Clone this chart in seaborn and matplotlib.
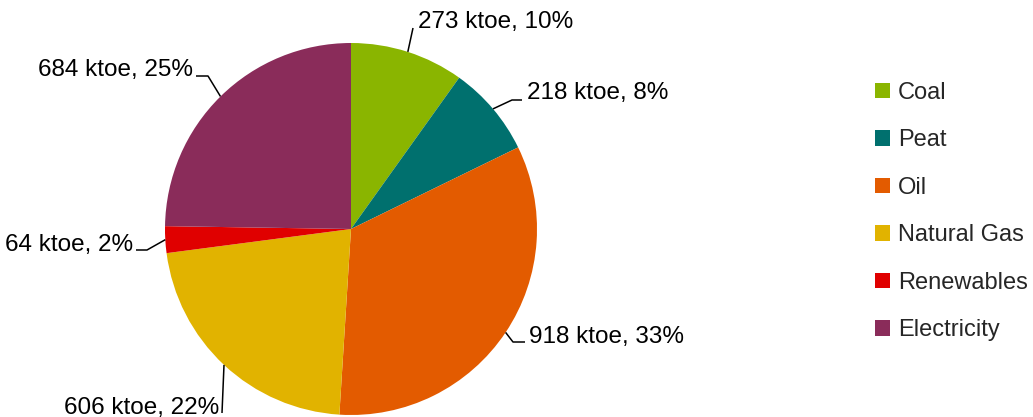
import matplotlib
matplotlib.use("Agg")
import matplotlib.pyplot as plt
import numpy as np
import seaborn as sns

# Final energy consumption by source
sources = ["Coal", "Peat", "Oil", "Natural Gas", "Renewables", "Electricity"]
ktoe = [273, 218, 918, 606, 64, 684]
colors = ["#8AB500", "#00706E", "#E35B00", "#E1B300", "#E00000", "#8A2C5A"]

sns.set_theme(style="white")
plt.rcParams["font.family"] = ["Liberation Sans", "DejaVu Sans"]

W, H = 1033, 417
fig = plt.figure(figsize=(W / 100, H / 100), dpi=100)
ax = fig.add_axes([0, 0, 1, 1])

# pie centre and radius on a pixel-sized canvas (y grows upward)
cx, cy, r = 351, H - 229, 186
wedges, _ = ax.pie(
    ktoe,
    colors=sns.color_palette(colors),
    startangle=90,
    counterclock=False,
    center=(cx, cy),
    radius=r,
    wedgeprops=dict(linewidth=0),
)
ax.set_aspect("auto")
ax.set_xlim(0, W)
ax.set_ylim(0, H)
ax.axis("off")

total = sum(ktoe)
shares = [round(v / total * 100) for v in ktoe]

# leader-line elbow, leader-line tail, text anchor (baseline), alignment
# given in pixels measured from the top-left corner
label_layout = [
    ((413, 28), (413, 28), (418, 28), "left"),
    ((512, 100), (522, 100), (527, 99), "left"),
    ((513, 342), (525, 342), (529, 343), "left"),
    ((222, 413), (222, 413), (219, 414), "right"),
    ((147, 250), (136, 250), (133, 251), "right"),
    ((208, 76), (196, 76), (193, 76), "right"),
]

for w, v, p, (elbow, tail, anchor, ha) in zip(wedges, ktoe, shares, label_layout):
    mid = np.deg2rad((w.theta1 + w.theta2) / 2)
    ex, ey = cx + r * np.cos(mid), cy + r * np.sin(mid)
    xs = [ex, elbow[0], tail[0]]
    ys = [ey, H - elbow[1], H - tail[1]]
    ax.plot(xs, ys, color="black", lw=1.1, solid_capstyle="butt", zorder=3)
    ax.text(anchor[0], H - anchor[1], f"{v} ktoe, {p}%", ha=ha, va="baseline",
            fontsize=17.5, color="black")

fs_leg = 17
ax.legend(
    wedges, sources,
    loc="center left",
    bbox_to_anchor=(875, H - 211.5),
    bbox_transform=ax.transData,
    frameon=False,
    fontsize=fs_leg,
    handlelength=15 / (fs_leg * 100 / 72),
    handleheight=15 / (fs_leg * 100 / 72),
    handletextpad=8 / (fs_leg * 100 / 72),
    labelspacing=1.08,
    borderpad=0,
    borderaxespad=0,
)

fig.savefig("out.png", dpi=100)
